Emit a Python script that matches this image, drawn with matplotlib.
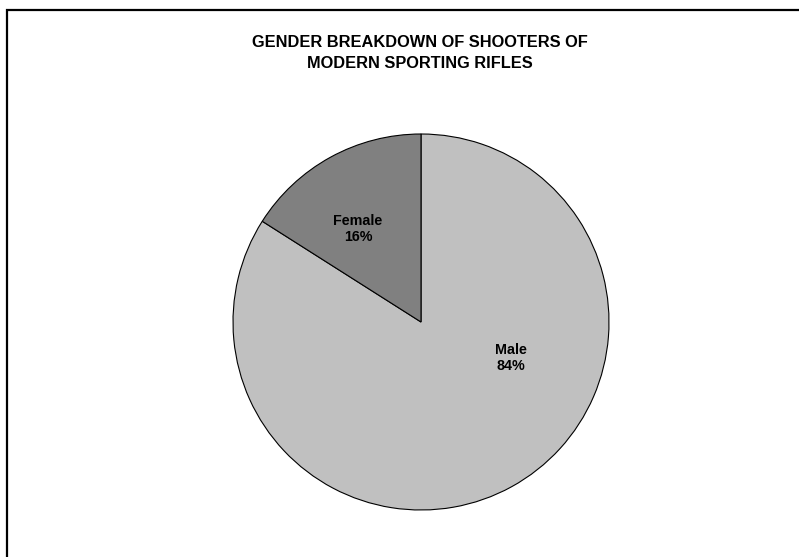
import matplotlib.pyplot as plt
from matplotlib.patches import Rectangle

# data
labels = ['Male', 'Female']
shares = [84, 16]
colors = ['#c0c0c0', '#808080']
title = 'GENDER BREAKDOWN OF SHOOTERS OF\nMODERN SPORTING RIFLES'

# label spots inside the pie (pie radius = 1)
label_xy = {'Female': (-0.335, 0.495), 'Male': (0.479, -0.191)}

plt.rcParams['font.family'] = ['Liberation Sans', 'DejaVu Sans']

W, H = 799, 557
fig = plt.figure(figsize=(W / 100, H / 100), dpi=100)

# pie centre (421, 322) px, radius 188 px
cx, cy, r = 421, 322, 188
ax = fig.add_axes([(cx - r) / W, (H - cy - r) / H, 2 * r / W, 2 * r / H])

ax.pie(shares, colors=colors, startangle=90, counterclock=False,
       wedgeprops={'edgecolor': 'black', 'linewidth': 0.8})
ax.set_xlim(-1, 1)
ax.set_ylim(-1, 1)
ax.set_aspect('equal')
ax.axis('off')

for lab, val in zip(labels, shares):
    x, y = label_xy[lab]
    ax.text(x, y, f'{lab}\n{val}%', ha='center', va='center',
            fontsize=10.3, fontweight='bold', linespacing=1.25)

fig.text(420 / W, 1 - 53 / H, title, ha='center', va='center',
         fontsize=11.8, fontweight='bold', linespacing=1.45)

# chart frame (only top and left edges fall inside the picture)
fig.patches.append(Rectangle((7 / W, -0.1), 1.2, 1 - 10 / H + 0.1,
                             transform=fig.transFigure, fill=False,
                             edgecolor='black', linewidth=1.6))

plt.savefig('out.png', dpi=100)
